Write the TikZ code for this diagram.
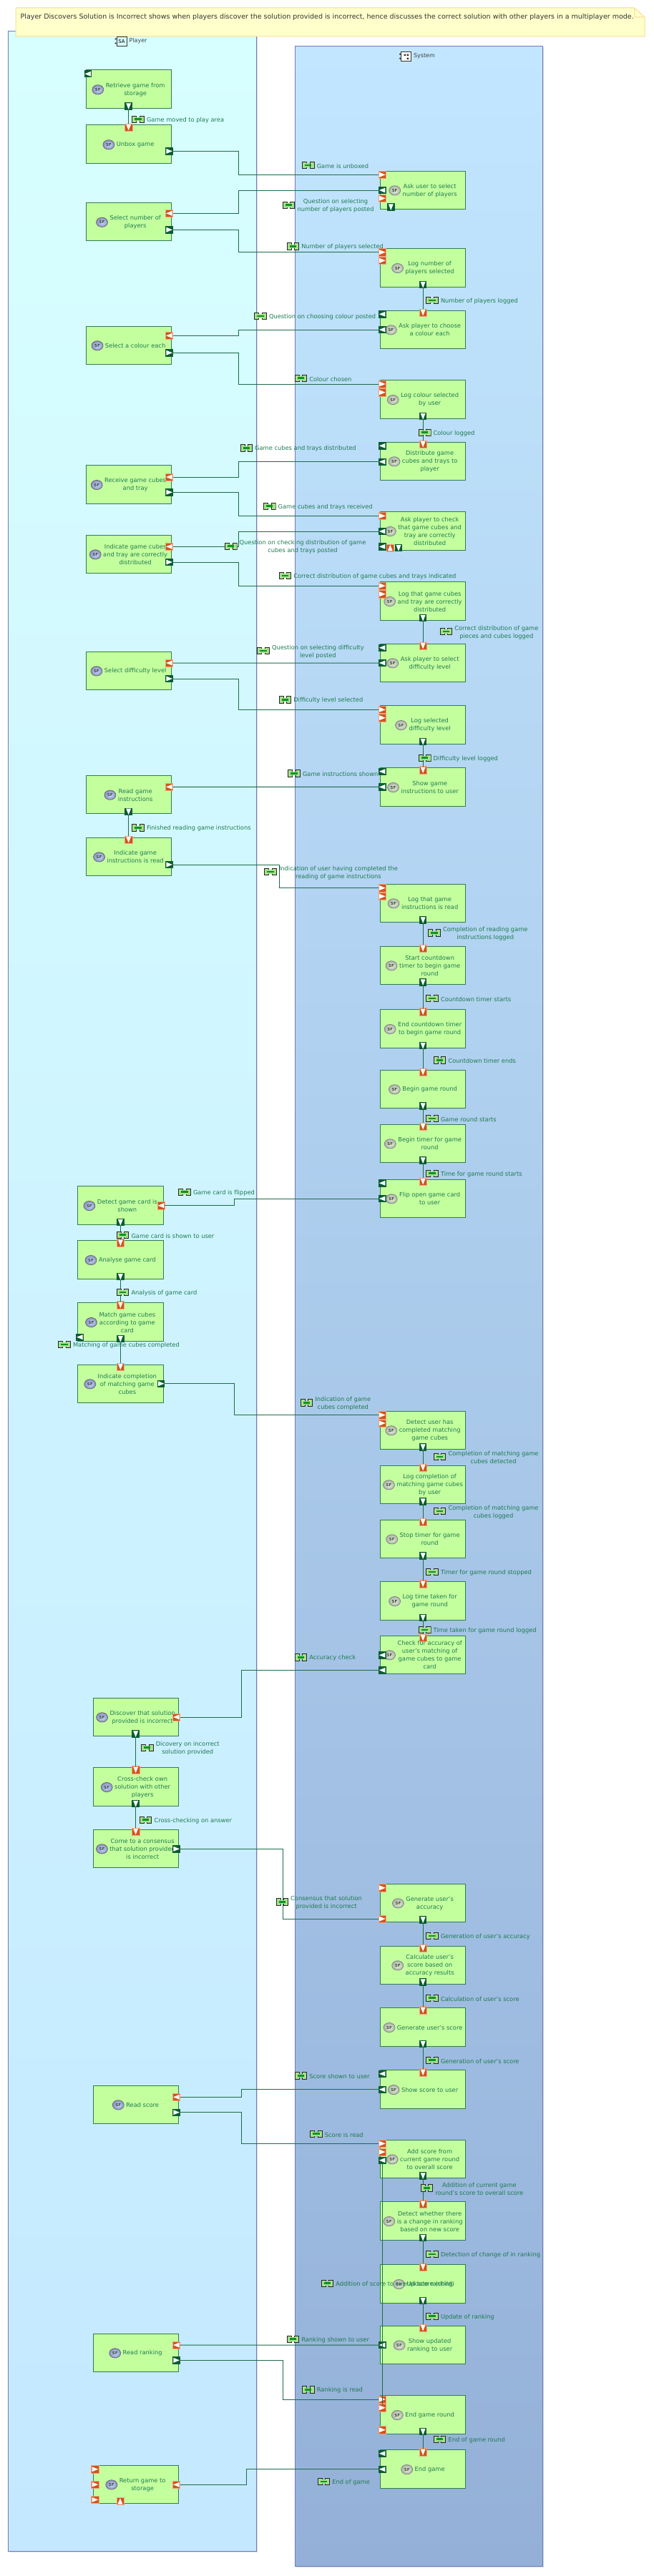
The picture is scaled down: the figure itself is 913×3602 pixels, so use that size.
\documentclass[tikz,border=0pt]{standalone}
\usepackage{fontspec}
\setmainfont{DejaVu Sans}
\usetikzlibrary{positioning,shapes.geometric,shadows}
\definecolor{playertop}{HTML}{D8FFFF}
\definecolor{playerbot}{HTML}{C4E8FF}
\definecolor{systop}{HTML}{C2E6FF}
\definecolor{sysbot}{HTML}{94B0D8}
\definecolor{panelline}{HTML}{6C7CBC}
\definecolor{fnfill}{HTML}{C4FF9E}
\definecolor{fnline}{HTML}{2E7D54}
\definecolor{fntext}{HTML}{1E7A50}
\definecolor{flowline}{HTML}{1E6B4A}
\definecolor{outfill}{HTML}{0B5C33}
\definecolor{infill}{HTML}{D2541C}
\definecolor{inedge}{HTML}{EFA27E}
\definecolor{notefill}{HTML}{FFFFCC}
\definecolor{noteline}{HTML}{F8DC90}
\definecolor{flowfill}{HTML}{A8E08C}

\begin{document}
\begin{tikzpicture}[
        x=1pt, y=-1pt,
        panel/.style={draw=panelline, line width=1pt, rectangle, minimum width=346.5pt, inner sep=0pt, outer sep=0pt, anchor=north west,
            drop shadow={shadow xshift=1.5pt, shadow yshift=-1.5pt, fill=black, opacity=0.15}},
        fnbox/.style={draw=fnline, fill=fnfill, line width=1pt, rectangle, minimum width=119.3pt, minimum height=53.3pt, inner sep=0pt, outer sep=0pt},
        fntxt/.style={align=center, inner sep=0pt, outer sep=0pt, text=fntext, font=\fontsize{8.3}{11}\selectfont},
        sfmark/.style={ellipse, minimum width=16pt, minimum height=13.3pt, inner sep=0pt, outer sep=0pt, line width=0.7pt, font=\fontsize{5.5}{6}\selectfont\bfseries, text=black!75},
        playermark/.style={sfmark, draw=black!60, inner color=playerbot, outer color=blue!30!gray!70},
        sysmark/.style={sfmark, draw=black!50, inner color=fnfill!50!white, outer color=gray!65},
        port/.style={rectangle, minimum size=10.4pt, inner sep=0pt, outer sep=0pt},
        outport/.style={port, fill=outfill},
        inport/.style={port, fill=infill, draw=inedge, line width=0.5pt},
        tri/.style={path picture={\fill[white] ([shift={(#1:4.4pt)}]path picture bounding box.center) -- ([shift={(#1+140:5.4pt)}]path picture bounding box.center) -- ([shift={(#1-140:5.4pt)}]path picture bounding box.center) -- cycle;}},
        conn/.style={draw=flowline, line width=1pt},
        flowmark/.style={rectangle, minimum width=18pt, minimum height=11pt, inner sep=0pt, outer sep=0pt, path picture={
            \filldraw[fill=flowfill, draw=black!85, line width=0.8pt] ([shift={(-8.3pt,-4.7pt)}]path picture bounding box.center) rectangle ([shift={(-2.2pt,4.7pt)}]path picture bounding box.center);
            \filldraw[fill=flowfill, draw=black!85, line width=0.8pt] ([shift={(2.2pt,-4.7pt)}]path picture bounding box.center) rectangle ([shift={(8.3pt,4.7pt)}]path picture bounding box.center);
            \fill[flowfill] ([shift={(-2.6pt,-2.8pt)}]path picture bounding box.center) rectangle ([shift={(2.6pt,2.8pt)}]path picture bounding box.center);
            \fill[outfill!65!green] ([shift={(-4.6pt,-1.4pt)}]path picture bounding box.center) rectangle ([shift={(4.6pt,1.4pt)}]path picture bounding box.center);
        }},
        flowtxt/.style={fntxt, right=3pt of #1, yshift=-1.3pt},
        titletxt/.style={inner sep=0pt, text=black!75, font=\fontsize{8}{10}\selectfont},
        titlemark/.style={draw=black!80, fill=playertop, rectangle, line width=0.8pt, minimum width=14pt, minimum height=13pt, inner sep=0pt, font=\fontsize{7}{8}\selectfont}
    ]
        \useasboundingbox (0,0) rectangle (913,3602);

        % Panels
        \node[panel, minimum height=3523pt, top color=playertop, bottom color=playerbot] (player) at (11.6,44) {};
        \node[panel, minimum height=3523pt, top color=systop, bottom color=sysbot] (system) at (412,65) {};

        % Note
        \draw[fill=notefill, draw=noteline, line width=1pt] (22,11) -- (886.6,11) -- (901,24) -- (901,51) -- (22,51) -- cycle;
        \draw[draw=noteline, line width=1pt] (886.6,11) -- (887,24) -- (901,24);
        \node[inner sep=0pt, anchor=west, text=black!80, font=\fontsize{9.5}{11}\selectfont] (note) at (28.5,24.3) {Player Discovers Solution is Incorrect shows when players discover the solution provided is incorrect, hence discusses the correct solution with other players in a multiplayer mode.};

        % Panel titles
        \node[titlemark] (playericon) at (170,57.5) {SA};
        \node[titletxt, right=3pt of playericon] (playertitle) {Player};
        \fill[black!80] ([shift={(-1pt,3pt)}]playericon.west) circle (1.2pt) ([shift={(-1pt,-3pt)}]playericon.west) circle (1.2pt);
        \node[titlemark, fill=white] (sysicon) at (567.5,78.7) {};
        \node[titletxt, right=3pt of sysicon] (systitle) {System};
        \fill[black!80] ([shift={(-1pt,3pt)}]sysicon.west) circle (1.2pt) ([shift={(-1pt,-3pt)}]sysicon.west) circle (1.2pt);
        \fill[black!80] ([shift={(-3pt,3pt)}]sysicon.center) rectangle +(2.5,2.5) ([shift={(1pt,3pt)}]sysicon.center) rectangle +(2.5,2.5) ([shift={(1pt,-2pt)}]sysicon.center) rectangle +(2.5,2.5);

        % Column 1: Player functions
        \node[fnbox, anchor=north west] (p1) at (120,98) {};
        \node[fnbox, below=23.7pt of p1] (p2) {};
        \node[fnbox, below=55.1pt of p2] (p3) {};
        \node[fnbox, below=119.3pt of p3] (p4) {};
        \node[fnbox, below=141.4pt of p4] (p5) {};
        \node[fnbox, below=44pt of p5] (p6) {};
        \node[fnbox, below=109.7pt of p6] (p7) {};
        \node[fnbox, below=120pt of p7] (p8) {};
        \node[fnbox, below=33.4pt of p8] (p9) {};
        \node[fnbox, below=434.4pt of p9, xshift=-11.3pt] (p10) {};
        \node[fnbox, below=22.7pt of p10] (p11) {};
        \node[fnbox, below=33.7pt of p11] (p12) {};
        \node[fnbox, below=33pt of p12] (p13) {};
        \node[fnbox, below=412.7pt of p13, xshift=21.3pt] (p14) {};
        \node[fnbox, below=44.4pt of p14] (p15) {};
        \node[fnbox, below=33pt of p15] (p16) {};
        \node[fnbox, below=304.7pt of p16] (p17) {};
        \node[fnbox, below=293.7pt of p17] (p18) {};
        \node[fnbox, below=130.7pt of p18] (p19) {};

        % Column 2: System functions
        \node[fnbox, anchor=north west] (s1) at (531.5,239) {};
        \node[fnbox, below=55.4pt of s1] (s2) {};
        \node[fnbox, below=33pt of s2] (s3) {};
        \node[fnbox, below=44.4pt of s3] (s4) {};
        \node[fnbox, below=33pt of s4] (s5) {};
        \node[fnbox, below=44.4pt of s5] (s6) {};
        \node[fnbox, below=44.7pt of s6] (s7) {};
        \node[fnbox, below=33pt of s7] (s8) {};
        \node[fnbox, below=33.4pt of s8] (s9) {};
        \node[fnbox, below=33.7pt of s9] (s10) {};
        \node[fnbox, below=109pt of s10] (s11) {};
        \node[fnbox, below=33.7pt of s11] (s12) {};
        \node[fnbox, below=35.4pt of s12] (s13) {};
        \node[fnbox, below=31pt of s13] (s14) {};
        \node[fnbox, below=22.7pt of s14] (s15) {};
        \node[fnbox, below=23.7pt of s15] (s16) {};
        \node[fnbox, below=270.7pt of s16] (s17) {};
        \node[fnbox, below=22.7pt of s17] (s18) {};
        \node[fnbox, below=22.7pt of s18] (s19) {};
        \node[fnbox, below=33.4pt of s19] (s20) {};
        \node[fnbox, below=22pt of s20] (s21) {};
        \node[fnbox, below=293.7pt of s21] (s22) {};
        \node[fnbox, below=33.7pt of s22] (s23) {};
        \node[fnbox, below=33.4pt of s23] (s24) {};
        \node[fnbox, below=33.7pt of s24] (s25) {};
        \node[fnbox, below=44pt of s25] (s26) {};
        \node[fnbox, below=33.4pt of s26] (s27) {};
        \node[fnbox, below=34.7pt of s27] (s28) {};
        \node[fnbox, below=32pt of s28] (s29) {};
        \node[fnbox, below=44.4pt of s29] (s30) {};
        \node[fnbox, below=22.7pt of s30] (s31) {};

        % Function names and their marks
        \foreach \n/\txt in {p1/{Retrieve game from\\storage}, p2/{Unbox game}, p3/{Select number of\\players}, p4/{Select a colour each}, p5/{Receive game cubes\\and tray}, p6/{Indicate game cubes\\and tray are correctly\\distributed}, p7/{Select difficulty level}, p8/{Read game\\instructions}, p9/{Indicate game\\instructions is read}, p10/{Detect game card is\\shown}, p11/{Analyse game card}, p12/{Match game cubes\\according to game\\card}, p13/{Indicate completion\\of matching game\\cubes}, p14/{Discover that solution\\provided is incorrect}, p15/{Cross-check own\\solution with other\\players}, p16/{Come to a consensus\\that solution provided\\is incorrect}, p17/{Read score}, p18/{Read ranking}, p19/{Return game to\\storage}} {
            \node[fntxt] (\n-t) at ([shift={(9.5pt,-0.7pt)}]\n.center) {\txt};
            \node[playermark, left=3pt of \n-t] (\n-i) {SF};
        }
        \foreach \n/\txt in {s1/{Ask user to select\\number of players}, s2/{Log number of\\players selected}, s3/{Ask player to choose\\a colour each}, s4/{Log colour selected\\by user}, s5/{Distribute game\\cubes and trays to\\player}, s6/{Ask player to check\\that game cubes and\\tray are correctly\\distributed}, s7/{Log that game cubes\\and tray are correctly\\distributed}, s8/{Ask player to select\\difficulty level}, s9/{Log selected\\difficulty level}, s10/{Show game\\instructions to user}, s11/{Log that game\\instructions is read}, s12/{Start countdown\\timer to begin game\\round}, s13/{End countdown timer\\to begin game round}, s14/{Begin game round}, s15/{Begin timer for game\\round}, s16/{Flip open game card\\to user}, s17/{Detect user has\\completed matching\\game cubes}, s18/{Log completion of\\matching game cubes\\by user}, s19/{Stop timer for game\\round}, s20/{Log time taken for\\game round}, s21/{Check for accuracy of\\user's matching of\\game cubes to game\\card}, s22/{Generate user's\\accuracy}, s23/{Calculate user's\\score based on\\accuracy results}, s24/{Generate user's score}, s25/{Show score to user}, s26/{Add score from\\current game round\\to overall score}, s27/{Detect whether there\\is a change in ranking\\based on new score}, s28/{Update ranking}, s29/{Show updated\\ranking to user}, s30/{End game round}, s31/{End game}} {
            \node[fntxt] (\n-t) at ([shift={(9.5pt,-0.7pt)}]\n.center) {\txt};
            \node[sysmark, left=3pt of \n-t] (\n-i) {SF};
        }

        % Ports: left edge, in
        \foreach \n/\b/\d in {s1ia/s1/5.3, s1ib/s1/38.3, s2ia/s2/5, s2ib/s2/16.6, s4ia/s4/5.3, s4ib/s4/17, s6ia/s6/5.6, s7ia/s7/5.3, s7ib/s7/17, s9ia/s9/5.6, s9ib/s9/17, s11ia/s11/5.6, s11ib/s11/17.3, s17ia/s17/5.6, s17ib/s17/17, s22ia/s22/5.7, s22ib/s22/49, s26ia/s26/5.3, s26ib/s26/17, s30ia/s30/5.3, s30ib/s30/17, s30ic/s30/48, p19ia/p19/5.7, p19ib/p19/27, p19ic/p19/48.3}
            \node[inport, tri=0] (\n) at ([shift={(2.8,\d)}]\b.north west) {};
        % Ports: left edge, out
        \foreach \n/\b/\d in {p1la/p1/5.3, p12la/p12/48, s1lb/s1/27, s3la/s3/5.3, s3lb/s3/27, s5la/s5/5.3, s5lb/s5/27.7, s6lb/s6/27.3, s6lc/s6/48.6, s8la/s8/5.7, s8lb/s8/27, s10la/s10/5, s10lb/s10/26.7, s16la/s16/5.3, s16lb/s16/27, s21lb/s21/27.3, s21lc/s21/48.3, s25la/s25/5, s25lb/s25/27, s26lb/s26/28.7, s29lb/s29/27, s31la/s31/5, s31lb/s31/27}
            \node[outport, tri=180] (\n) at ([shift={(2.8,\d)}]\b.north west) {};
        % Ports: right edge, in
        \foreach \n/\b/\d in {p3ir/p3/14.9, p4ir/p4/13.3, p5ir/p5/16.3, p6ir/p6/16.3, p7ir/p7/16, p8ir/p8/16, p10ir/p10/27, p14ir/p14/27, p17ir/p17/16.3, p18ir/p18/16, p19ir/p19/27.3}
            \node[inport, tri=180] (\n) at ([shift={(-2.8,\d)}]\b.north east) {};
        % Ports: right edge, out
        \foreach \n/\b/\d in {p2or/p2/36.4, p3or/p3/37.9, p4or/p4/37.3, p5or/p5/37.6, p6or/p6/38, p7or/p7/38, p9or/p9/38, p13or/p13/26.7, p16or/p16/27.3, p17or/p17/37.7, p18or/p18/37.3}
            \node[outport, tri=0] (\n) at ([shift={(-2.8,\d)}]\b.north east) {};
        % Ports: top edge, in
        \foreach \b in {p2,p9,p11,p12,p13,p15,p16,s3,s5,s8,s10,s12,s13,s14,s15,s16,s18,s19,s20,s21,s23,s24,s25,s27,s28,s29,s31}
            \node[inport, tri=-90] (\b it) at ([yshift=-3pt]\b.north) {};
        % Ports: bottom edge, out
        \foreach \b in {p1,p8,p10,p11,p12,p14,p15,s2,s4,s7,s9,s11,s12,s13,s14,s15,s17,s18,s19,s20,s22,s23,s24,s26,s27,s28,s30}
            \node[outport, tri=-90] (\b ob) at ([yshift=2.8pt]\b.south) {};
        % Ports: off centre on the bottom edge
        \node[outport, tri=-90] (s1ob) at ([shift={(14.8,-2.8)}]s1.south west) {};
        \node[inport, tri=90] (s6iu) at ([shift={(13.8,-2.8)}]s6.south west) {};
        \node[outport, tri=-90] (s6ob) at ([shift={(25.5,-2.8)}]s6.south west) {};
        \node[inport, tri=90] (p19iu) at ([shift={(38,-2.8)}]p19.south west) {};

        % Connectors inside a column
        \foreach \a/\b in {p1/p2, p8/p9, p10/p11, p11/p12, p12/p13, p14/p15, p15/p16, s2/s3, s4/s5, s7/s8, s9/s10, s11/s12, s12/s13, s13/s14, s14/s15, s15/s16, s17/s18, s18/s19, s19/s20, s20/s21, s22/s23, s23/s24, s24/s25, s26/s27, s27/s28, s28/s29, s30/s31}
            \draw[conn] (\a ob.south) -- (\b it.north);
        \draw[conn] (s26lb.south) -- (s30ib.north);

        % Connectors between the columns
        \draw[conn] (p2or.east) -- ++(91.3,0) |- (s1ia.west);
        \draw[conn] (p3ir.east) -- ++(91.3,0) |- (s1lb.west);
        \draw[conn] (p3or.east) -- ++(91.3,0) |- (s2ia.west);
        \draw[conn] (p4ir.east) -- ++(91.3,0) |- (s3lb.west);
        \draw[conn] (p4or.east) -- ++(91.3,0) |- (s4ia.west);
        \draw[conn] (p5ir.east) -- ++(91.3,0) |- (s5lb.west);
        \draw[conn] (p5or.east) -- ++(91.3,0) |- (s6ia.west);
        \draw[conn] (p6ir.east) -- ++(91.3,0) |- (s6lb.west);
        \draw[conn] (p6or.east) -- ++(91.3,0) |- (s7ia.west);
        \draw[conn] (p7ir.east) -- (s8lb.west);
        \draw[conn] (p7or.east) -- ++(91.3,0) |- (s9ia.west);
        \draw[conn] (p8ir.east) -- (s10lb.west);
        \draw[conn] (p9or.east) -- ++(148.3,0) |- (s11ia.west);
        \draw[conn] (p10ir.east) -- ++(96.9,0) |- (s16lb.west);
        \draw[conn] (p13or.east) -- ++(96.9,0) |- (s17ia.west);
        \draw[conn] (p14ir.east) -- ++(86.1,0) |- (s21lc.west);
        \draw[conn] (p16or.east) -- ++(143.6,0) |- (s22ib.west);
        \draw[conn] (p17ir.east) -- ++(86.1,0) |- (s25lb.west);
        \draw[conn] (p17or.east) -- ++(86.1,0) |- (s26ia.west);
        \draw[conn] (p18ir.east) -- (s29lb.west);
        \draw[conn] (p18or.east) -- ++(143.6,0) |- (s30ia.west);
        \draw[conn] (p19ir.east) -- ++(93.1,0) |- (s31lb.west);

        % Flow labels
        \foreach \n/\x/\y/\txt in {f1/193/166.7/{Game moved to play area}, f2/430.8/231/{Game is unboxed}, f3/403.5/286.7/{Question on selecting\\number of players posted}, f4/409.3/344.3/{Number of players selected}, f5/604/420/{Number of players logged}, f6/364/442/{Question on choosing colour posted}, f7/420.3/528.7/{Colour chosen}, f8/593.6/604.7/{Colour logged}, f9/344.2/626.3/{Game cubes and trays distributed}, f10/376.7/707.7/{Game cubes and trays received}, f11/322.7/763.7/{Question on checking distribution of game\\cubes and trays posted}, f12/398.3/805/{Correct distribution of game cubes and trays indicated}, f13/623.3/883/{Correct distribution of game\\pieces and cubes logged}, f14/368/910/{Question on selecting difficulty\\level posted}, f15/398.3/978.3/{Difficulty level selected}, f16/593.6/1059.7/{Difficulty level logged}, f17/411/1081.3/{Game instructions shown}, f18/193/1157.3/{Finished reading game instructions}, f19/378/1219/{Indication of user having completed the\\reading of game instructions}, f20/607/1304.3/{Completion of reading game\\instructions logged}, f21/604/1396/{Countdown timer starts}, f22/614.5/1482.5/{Countdown timer ends}, f23/604/1564/{Game round starts}, f24/604/1640.7/{Time for game round starts}, f25/258/1666.7/{Game card is flipped}, f26/171.5/1726.7/{Game card is shown to user}, f27/171.5/1807/{Analysis of game card}, f28/90/1880/{Matching of game cubes completed}, f29/428.5/1961.3/{Indication of game\\cubes completed}, f30/614.5/2037/{Completion of matching game\\cubes detected}, f31/614.5/2113/{Completion of matching game\\cubes logged}, f32/604/2198/{Timer for game round stopped}, f33/593.6/2279/{Time taken for game round logged}, f34/420.3/2317.3/{Accuracy check}, f35/205.8/2443.7/{Dicovery on incorrect\\solution provided}, f36/203.5/2544.7/{Cross-checking on answer}, f37/394.2/2659.3/{Consensus that solution\\provided is incorrect}, f38/604/2707/{Generation of user's accuracy}, f39/604/2793.7/{Calculation of user's score}, f40/604/2880.7/{Generation of user's score}, f41/420.3/2902.3/{Score shown to user}, f42/441.9/2983.7/{Score is read}, f43/596.5/3059.3/{Addition of current game\\round's score to overall score}, f44/604/3152/{Detection of change of in ranking}, f45/457.3/3192.7/{Addition of score to overall score (child)}, f46/604/3238.7/{Update of ranking}, f47/409.3/3270.7/{Ranking shown to user}, f48/430.8/3341.3/{Ranking is read}, f49/614.5/3410.7/{End of game round}, f50/452.3/3470/{End of game}} {
            \node[flowmark] (\n) at (\x,\y) {};
            \node[flowtxt=\n] (\n-t) {\txt};
        }
    \end{tikzpicture}
\end{document}
